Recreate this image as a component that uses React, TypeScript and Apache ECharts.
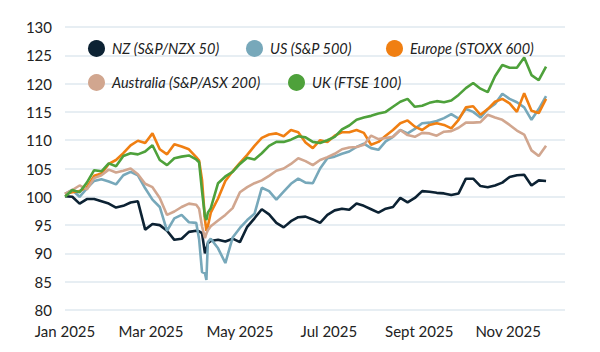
import React, { useEffect, useRef } from "react";
import * as echarts from "echarts";

// Observation dates (2025)
const dates: string[] = [
  "2025-01-01","2025-01-06","2025-01-11","2025-01-16","2025-01-21","2025-01-26","2025-01-31","2025-02-05","2025-02-10","2025-02-15",
  "2025-02-20","2025-02-25","2025-03-02","2025-03-07","2025-03-12","2025-03-17","2025-03-22","2025-03-27","2025-04-01","2025-04-03",
  "2025-04-05","2025-04-07","2025-04-08","2025-04-09","2025-04-11","2025-04-16","2025-04-21","2025-04-26","2025-05-01","2025-05-06",
  "2025-05-11","2025-05-16","2025-05-21","2025-05-26","2025-05-31","2025-06-05","2025-06-10","2025-06-15","2025-06-20","2025-06-25",
  "2025-06-30","2025-07-05","2025-07-10","2025-07-15","2025-07-20","2025-07-25","2025-07-30","2025-08-04","2025-08-09","2025-08-14",
  "2025-08-19","2025-08-24","2025-08-29","2025-09-03","2025-09-08","2025-09-13","2025-09-18","2025-09-23","2025-09-28","2025-10-03",
  "2025-10-08","2025-10-13","2025-10-18","2025-10-23","2025-10-28","2025-11-02","2025-11-07","2025-11-12","2025-11-17","2025-11-22",
  "2025-11-27"
];

const nz: number[] = [
  100.1,100.0,98.8,99.6,99.6,99.2,98.8,98.1,98.4,99.0,
  99.2,94.2,95.2,95.0,94.0,92.4,92.6,93.8,94.0,93.9,
  93.6,90.0,90.8,91.8,92.2,92.4,92.1,92.6,92.0,94.7,
  96.2,97.8,96.9,95.4,94.6,95.7,96.4,96.5,96.0,95.4,
  96.8,97.6,97.9,97.7,98.8,98.4,97.8,97.2,97.9,98.2,
  99.8,99.0,99.8,101.0,100.9,100.7,100.6,100.3,100.6,103.2,
  103.2,101.9,101.7,102.0,102.5,103.5,103.8,103.9,102.0,102.9,
  102.8
];

const us: number[] = [
  100.5,101.2,100.0,101.5,102.8,103.1,102.7,102.2,103.8,104.4,
  103.8,101.5,99.5,98.2,94.0,96.2,96.8,95.5,95.4,92.5,
  86.7,86.5,85.3,92.0,92.6,90.9,88.3,92.8,94.5,95.9,
  97.0,101.6,101.0,99.5,100.9,102.3,103.2,102.5,102.4,105.0,
  106.8,107.1,107.6,108.0,108.8,109.4,108.6,108.3,109.8,110.6,
  111.8,111.2,112.0,113.0,113.1,113.4,113.9,114.6,113.8,115.5,
  115.0,114.0,115.5,116.4,118.2,117.3,116.7,115.8,113.6,115.5,
  117.8
];

const europe: number[] = [
  100.5,100.8,101.0,101.7,103.7,104.1,105.8,106.5,107.7,109.1,
  109.9,109.5,111.2,108.4,107.5,109.3,108.9,108.4,107.0,106.4,
  103.0,96.0,94.0,94.8,97.2,99.7,102.8,104.5,106.0,107.4,
  109.0,110.4,111.0,111.2,110.7,111.8,111.4,109.6,108.6,110.0,
  109.7,110.8,111.4,111.4,111.8,111.3,109.2,109.7,110.8,111.8,
  113.0,113.5,112.4,111.8,112.7,113.0,112.7,112.1,113.6,115.8,
  116.0,114.5,115.5,116.8,117.3,116.5,115.0,118.3,115.2,114.8,
  117.3
];

const australia: number[] = [
  100.5,101.2,102.0,101.3,103.3,103.8,104.8,104.3,104.6,105.0,
  104.0,102.3,101.7,99.8,96.8,97.4,98.2,98.8,98.6,97.9,
  94.8,92.7,93.5,94.1,94.8,95.8,96.8,98.0,100.8,101.7,
  102.4,102.9,103.7,104.6,105.0,105.8,106.8,106.3,105.6,106.5,
  107.0,107.6,108.4,108.7,108.8,109.2,110.8,110.2,110.4,110.6,
  111.8,110.9,110.6,111.3,111.2,110.8,111.5,111.6,112.2,113.1,
  113.1,113.2,114.5,114.0,113.6,112.7,111.7,111.0,108.2,107.2,
  109.0
];

const uk: number[] = [
  100.0,101.2,100.8,102.5,104.7,104.5,105.9,105.4,107.2,107.7,
  107.5,108.0,109.1,106.5,105.6,106.8,107.1,107.3,106.6,106.1,
  101.0,96.5,95.9,97.2,98.0,102.4,103.6,104.4,105.8,106.9,
  106.6,107.7,109.0,109.7,109.7,110.1,110.7,110.5,109.7,109.5,
  110.0,110.6,111.9,112.6,113.6,114.0,114.3,114.7,115.0,115.9,
  116.8,117.3,115.9,116.1,116.6,116.9,116.7,117.0,118.0,119.2,
  120.1,119.1,118.5,121.3,123.3,122.8,122.8,124.6,121.5,120.6,
  123.0
];

const seriesNames: string[] = [
  "NZ (S&P/NZX 50)",
  "US (S&P 500)",
  "Europe (STOXX 600)",
  "Australia (S&P/ASX 200)",
  "UK (FTSE 100)",
];
const seriesColors: string[] = ["#0c2233", "#77a8ba", "#f07f12", "#d1a68f", "#4ea13b"];

const xTickDates: string[] = ["2025-01-01", "2025-03-01", "2025-05-01", "2025-07-01", "2025-09-01", "2025-11-01"];
const xTickLabels: string[] = ["Jan 2025", "Mar 2025", "May 2025", "Jul 2025", "Sept 2025", "Nov 2025"];
const xAxisEnd = "2025-12-10";

const yMin = 80;
const yMax = 130;
const yStep = 5;

const dayOf = (s: string) => (Date.parse(s + "T00:00:00Z") - Date.parse("2025-01-01T00:00:00Z")) / 86400000;

export default function App() {
  const ref = useRef<HTMLDivElement>(null);
  useEffect(() => {
    if (!ref.current) return;
    document.body.style.margin = "0";
    const chart = echarts.init(ref.current, undefined, { renderer: "svg" });
    const allValues = [nz, us, europe, australia, uk];
    const tickDays = xTickDates.map(dayOf);
    const legendPos = [
      { left: 88, top: 40 },
      { left: 246, top: 40 },
      { left: 386, top: 40 },
      { left: 88, top: 74 },
      { left: 288, top: 74 },
    ];
    chart.setOption({
      animation: false,
      backgroundColor: "#ffffff",
      textStyle: { fontFamily: "Lato" },
      legend: seriesNames.map((n, i) => ({
        data: [n],
        left: legendPos[i].left,
        top: legendPos[i].top,
        icon: "circle",
        itemWidth: 17,
        itemHeight: 17,
        padding: 0,
        textStyle: { fontFamily: "Lato", fontStyle: "italic", fontSize: 14.5, color: "#222", padding: [0, 0, 0, 2] },
        selectedMode: false,
      })),
      grid: { left: 65, right: 35, top: 27, bottom: 42 },
      xAxis: {
        type: "value",
        min: 0,
        max: dayOf(xAxisEnd),
        axisLine: { show: false },
        axisTick: { show: false },
        splitLine: { show: false },
        axisLabel: {
          customValues: tickDays,
          formatter: (v: number) => {
            const idx = tickDays.findIndex((d) => Math.abs(d - v) < 0.5);
            return idx >= 0 ? xTickLabels[idx] : "";
          },
          fontFamily: "Lato",
          fontSize: 15,
          color: "#222",
          margin: 13,
        },
      },
      yAxis: {
        type: "value",
        min: yMin,
        max: yMax,
        interval: yStep,
        axisLine: { show: false },
        axisTick: { show: false },
        splitLine: { lineStyle: { color: "#dfe8ef", width: 1.5 } },
        axisLabel: { fontFamily: "Lato", fontSize: 15, color: "#222", margin: 13 },
      },
      series: seriesNames.map((n, i) => ({
        name: n,
        type: "line",
        showSymbol: false,
        symbol: "none",
        color: seriesColors[i],
        lineStyle: { width: 2.6, color: seriesColors[i] },
        data: dates.map((d, j) => [dayOf(d), allValues[i][j]]),
      })),
    });
    return () => chart.dispose();
  }, []);
  return <div ref={ref} style={{ width: 600, height: 352 }} />;
}
